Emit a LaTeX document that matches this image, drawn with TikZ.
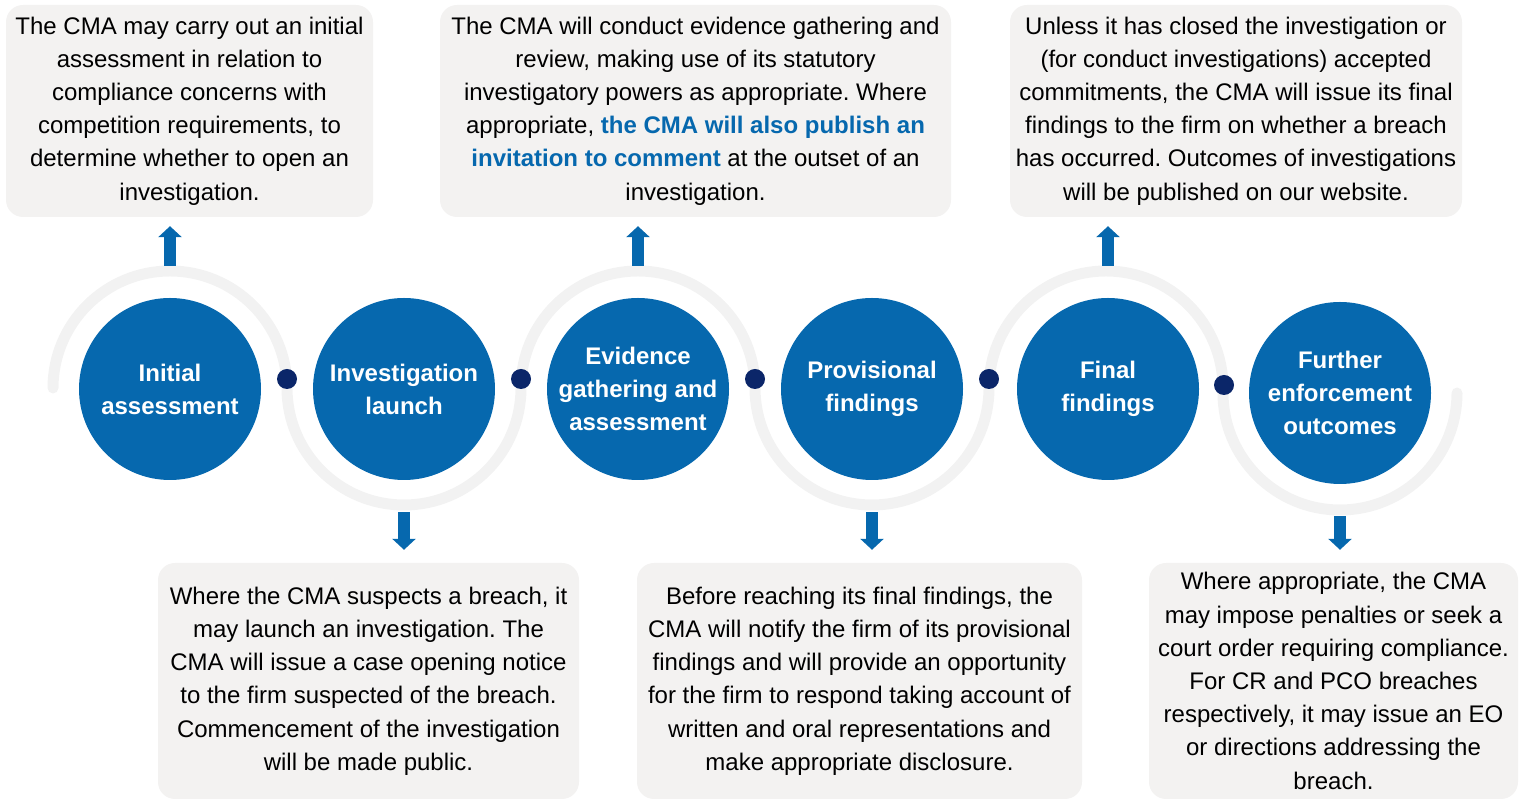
\documentclass[tikz,border=0pt]{standalone}
\usepackage{fontspec}
\setmainfont{Liberation Sans}
\usetikzlibrary{arrows.meta}
\definecolor{cmablue}{HTML}{0668AE}
\definecolor{cmanavy}{HTML}{0B2669}
\definecolor{trackgrey}{HTML}{F2F2F2}
\definecolor{notegrey}{HTML}{F3F2F1}
\newcommand{\hl}[1]{\textcolor{cmablue}{\bfseries #1}}
\frenchspacing

\begin{document}
\begin{tikzpicture}[x=1pt,y=1pt,
    phase/.style={circle,fill=cmablue,text=white,minimum size=182pt,inner sep=0pt,
      align=center,font=\fontsize{24}{33}\selectfont\bfseries},
    joint/.style={circle,fill=cmanavy,minimum size=20pt,inner sep=0pt},
    notebox/.style={rounded corners=17pt,fill=notegrey,inner sep=0pt,
      align=center,font=\fontsize{24}{33.2}\selectfont},
    blockarrow/.style={cmablue,line width=12pt,-{Triangle[width=23pt,length=11pt]}}]
  \useasboundingbox (0,0) rectangle (1521,800);

  % winding track behind the stages
  \draw[trackgrey,line width=11pt,line cap=round]
    (53,412) arc (180:0:117) arc (180:360:117) arc (180:0:117)
    arc (180:360:117) arc (180:0:117) -- ++(0,-5) arc (180:360:117);

  % stages
  \draw
    (170,411) node[phase] (initial) {Initial\\assessment}
    (404,411) node[phase] (launch) {Investigation\\launch}
    (638,411) node[phase] (evidence) {Evidence\\gathering and\\assessment}
    (872,411) node[phase] (provisional) {Provisional\\findings}
    (1108,411) node[phase] (final) {Final\\findings}
    (1340,407) node[phase] (further) {Further\\enforcement\\outcomes};

  % joints between stages
  \draw
    (287,421) node[joint] (j1) {}
    (521,421) node[joint] (j2) {}
    (755,421) node[joint] (j3) {}
    (989,421) node[joint] (j4) {}
    (1224,415) node[joint] (j5) {};

  % notes above
  \node[notebox,minimum width=367pt,minimum height=212pt] (note1) at (189.5,689)
    {The CMA may carry out an initial\\assessment in relation to\\compliance concerns with\\
     competition requirements, to\\determine whether to open an\\investigation.};
  \node[notebox,minimum width=511pt,minimum height=212pt] (note3) at (695.5,689)
    {The CMA will conduct evidence gathering and\\review, making use of its statutory\\
     investigatory powers as appropriate. Where\\appropriate, \hl{the CMA will also publish an}\\
     \hl{invitation to comment} at the outset of an\\investigation.};
  \node[notebox,minimum width=452pt,minimum height=212pt] (note5) at (1236,689)
    {Unless it has closed the investigation or\\(for conduct investigations) accepted\\
     commitments, the CMA will issue its final\\findings to the firm on whether a breach\\
     has occurred. Outcomes of investigations\\will be published on our website.};

  % notes below
  \node[notebox,minimum width=421pt,minimum height=236pt] (note2) at (368.5,119)
    {Where the CMA suspects a breach, it\\may launch an investigation. The\\
     CMA will issue a case opening notice\\to the firm suspected of the breach.\\
     Commencement of the investigation\\will be made public.};
  \node[notebox,minimum width=445pt,minimum height=236pt] (note4) at (859.5,119)
    {Before reaching its final findings, the\\CMA will notify the firm of its provisional\\
     findings and will provide an opportunity\\for the firm to respond taking account of\\
     written and oral representations and\\make appropriate disclosure.};
  \node[notebox,minimum width=369pt,minimum height=236pt] (note6) at (1333.5,119)
    {Where appropriate, the CMA\\may impose penalties or seek a\\court order requiring compliance.\\
     For CR and PCO breaches\\respectively, it may issue an EO\\or directions addressing the\\breach.};

  % arrows out to the notes
  \begin{scope}[blockarrow,shorten <=32pt]
    \draw[shorten >=9pt] (initial.north) -- (initial.north |- note1.south);
    \draw[shorten >=13pt] (launch.south) -- (launch.south |- note2.north);
    \draw[shorten >=9pt] (evidence.north) -- (evidence.north |- note3.south);
    \draw[shorten >=13pt] (provisional.south) -- (provisional.south |- note4.north);
    \draw[shorten >=9pt] (final.north) -- (final.north |- note5.south);
    \draw[shorten >=13pt] (further.south) -- (further.south |- note6.north);
  \end{scope}
\end{tikzpicture}
\end{document}
